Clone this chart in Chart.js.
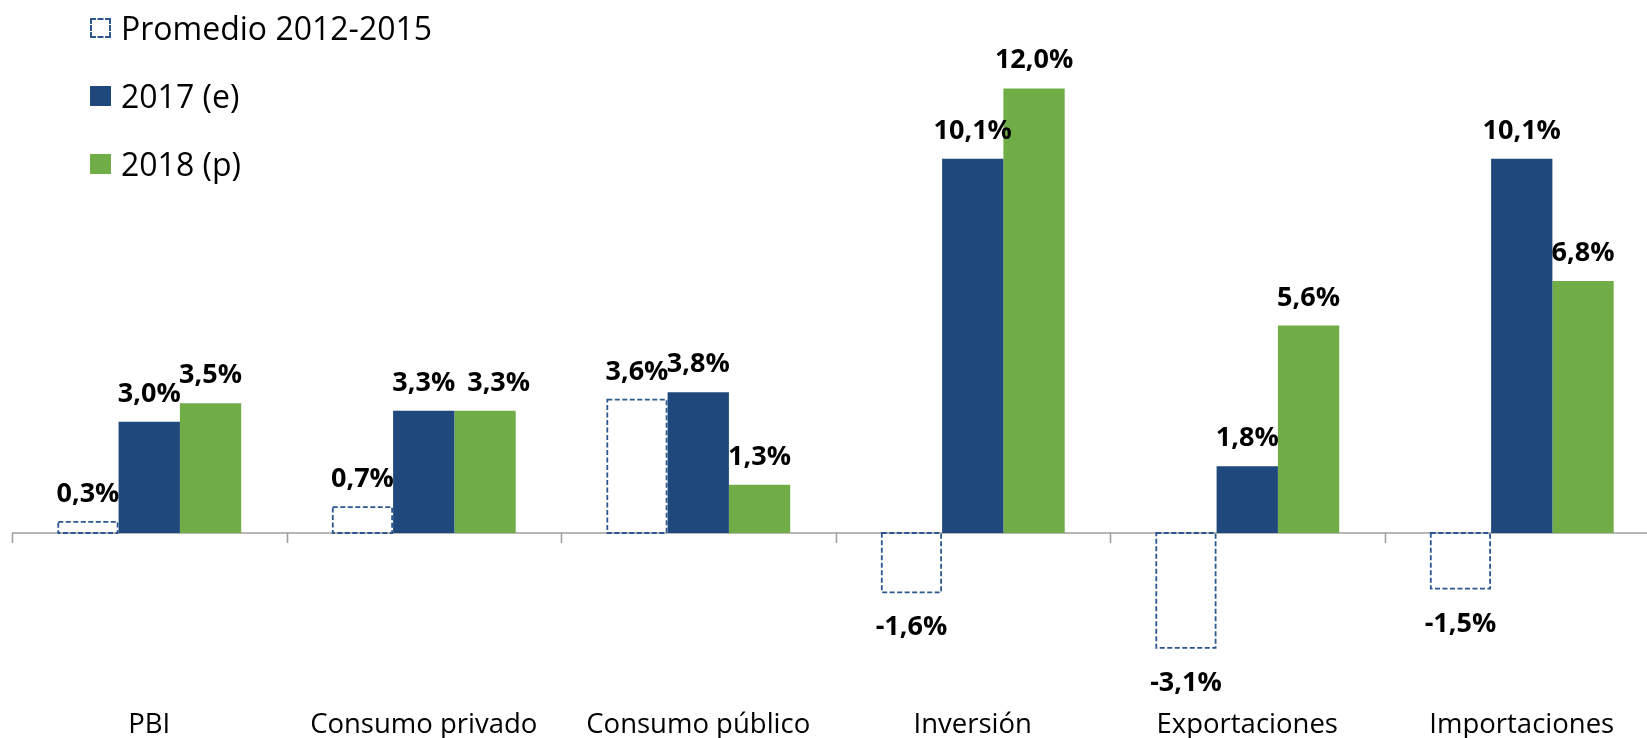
<!DOCTYPE html>
<html>
<head>
<meta charset="utf-8">
<script src="https://cdn.jsdelivr.net/npm/chart.js@4/dist/chart.umd.min.js"></script>
<style>
    html, body {
        margin: 0;
        padding: 0;
        background: #ffffff;
        overflow: hidden;
    }
    #wrap {
        position: relative;
        width: 1659px;
        height: 760px;
    }
    #chart {
        display: block;
        width: 1659px;
        height: 760px;
    }
    #legend {
        position: absolute;
        left: 0;
        top: 0;
        font-family: "Open Sans", sans-serif;
        font-size: 32px;
        color: #000;
    }
    .item {
        position: absolute;
        left: 90px;
        height: 32px;
        line-height: 32px;
        white-space: nowrap;
        display: flex;
        align-items: center;
    }
    .box {
        width: 21px;
        height: 20px;
        margin-right: 10px;
        box-sizing: border-box;
    }
</style>
</head>
<body>
<div id="wrap">
    <canvas id="chart" width="1659" height="760"></canvas>
    <div id="legend"></div>
</div>
<script>
// Categories and series (growth, %)
const categories = ["PBI", "Consumo privado", "Consumo público", "Inversión", "Exportaciones", "Importaciones"];
const seriesNames = ["Promedio 2012-2015", "2017 (e)", "2018 (p)"];
const promedio = [0.3, 0.7, 3.6, -1.6, -3.1, -1.5];
const valores2017 = [3.0, 3.3, 3.8, 10.1, 1.8, 10.1];
const valores2018 = [3.5, 3.3, 1.3, 12.0, 5.6, 6.8];

const colors = {
    dashed: "#2b5690",
    blue: "#1f497d",
    green: "#70ad47",
    axis: "#a0a0a0",
};

const fmt = (v) => v.toFixed(1).replace(".", ",") + "%";

// Zero line with small tick marks between categories
const zeroLinePlugin = {
    id: "zeroLine",
    beforeDatasetsDraw(chart) {
        const { ctx, chartArea, scales } = chart;
        const y0 = scales.y.getPixelForValue(0);
        const step = scales.x.width / categories.length;
        ctx.save();
        ctx.strokeStyle = colors.axis;
        ctx.lineWidth = 1.6;
        ctx.beginPath();
        ctx.moveTo(chartArea.left, y0);
        ctx.lineTo(chartArea.right, y0);
        for (let i = 0; i <= categories.length; i++) {
            const x = Math.round(scales.x.left + i * step) + 0.5;
            ctx.moveTo(x, y0);
            ctx.lineTo(x, y0 + 10);
        }
        ctx.stroke();
        ctx.restore();
    },
};

// Dashed outline for the average series + value labels
const labelsPlugin = {
    id: "barLabels",
    afterDatasetsDraw(chart) {
        const { ctx } = chart;
        ctx.save();
        const dashMeta = chart.getDatasetMeta(0);
        ctx.strokeStyle = colors.dashed;
        ctx.lineWidth = 1.8;
        ctx.setLineDash([5, 2.5]);
        dashMeta.data.forEach((bar) => {
            const top = Math.min(bar.y, bar.base);
            const h = Math.abs(bar.base - bar.y);
            ctx.strokeRect(bar.x - bar.width / 2 + 1, top, bar.width - 2, h);
        });
        ctx.setLineDash([]);

        ctx.fillStyle = "#000";
        ctx.font = "bold 27px 'Open Sans'";
        ctx.textAlign = "center";
        ctx.textBaseline = "alphabetic";
        // remember last label per category so equal-height labels don't collide
        const last = {};
        chart.data.datasets.forEach((ds, i) => {
            const meta = chart.getDatasetMeta(i);
            meta.data.forEach((bar, j) => {
                const v = ds.data[j];
                const text = fmt(v);
                const w = ctx.measureText(text).width;
                const y = v >= 0 ? bar.y - 20 : bar.y + 43;
                let x = bar.x;
                const prev = last[j];
                if (prev && Math.abs(prev.y - y) < 3 && x - w / 2 < prev.right + 12) {
                    x = prev.right + 12 + w / 2;
                }
                ctx.fillText(text, x, y);
                last[j] = { y: y, right: x + w / 2 };
            });
        });
        ctx.restore();
    },
};

const ctx = document.getElementById("chart");
new Chart(ctx, {
    type: "bar",
    data: {
        labels: categories,
        datasets: [
            {
                label: seriesNames[0],
                data: promedio,
                backgroundColor: "rgba(255,255,255,0)",
                borderWidth: 0,
            },
            {
                label: seriesNames[1],
                data: valores2017,
                backgroundColor: colors.blue,
                borderWidth: 0,
            },
            {
                label: seriesNames[2],
                data: valores2018,
                backgroundColor: colors.green,
                borderWidth: 0,
            },
        ],
    },
    options: {
        responsive: false,
        animation: false,
        datasets: {
            bar: {
                categoryPercentage: 0.67,
                barPercentage: 1.0,
            },
        },
        layout: {
            padding: { left: 12, right: 0, top: 14.3, bottom: 18.8 },
        },
        plugins: {
            legend: { display: false },
            tooltip: { enabled: false },
        },
        scales: {
            x: {
                grid: { display: false, drawTicks: false },
                border: { display: false },
                ticks: {
                    color: "#000",
                    padding: 27.5,
                    maxRotation: 0,
                    font: { family: "'Open Sans'", size: 27.5, lineHeight: 1.2 },
                },
                afterFit: (scale) => {
                    scale.height = 60;
                },
            },
            y: {
                display: false,
                min: -4,
                max: 14,
            },
        },
    },
    plugins: [zeroLinePlugin, labelsPlugin],
});

// Vertical legend in the top-left corner
const legend = document.getElementById("legend");
const legendFills = [null, colors.blue, colors.green];
seriesNames.forEach((name, i) => {
    const item = document.createElement("div");
    item.className = "item";
    item.style.top = 12 + i * 68 + "px";
    const box = document.createElement("span");
    box.className = "box";
    if (legendFills[i]) {
        box.style.background = legendFills[i];
    } else {
        box.style.border = "2px dashed " + colors.dashed;
    }
    const txt = document.createElement("span");
    txt.textContent = name;
    item.appendChild(box);
    item.appendChild(txt);
    legend.appendChild(item);
});
</script>
</body>
</html>
